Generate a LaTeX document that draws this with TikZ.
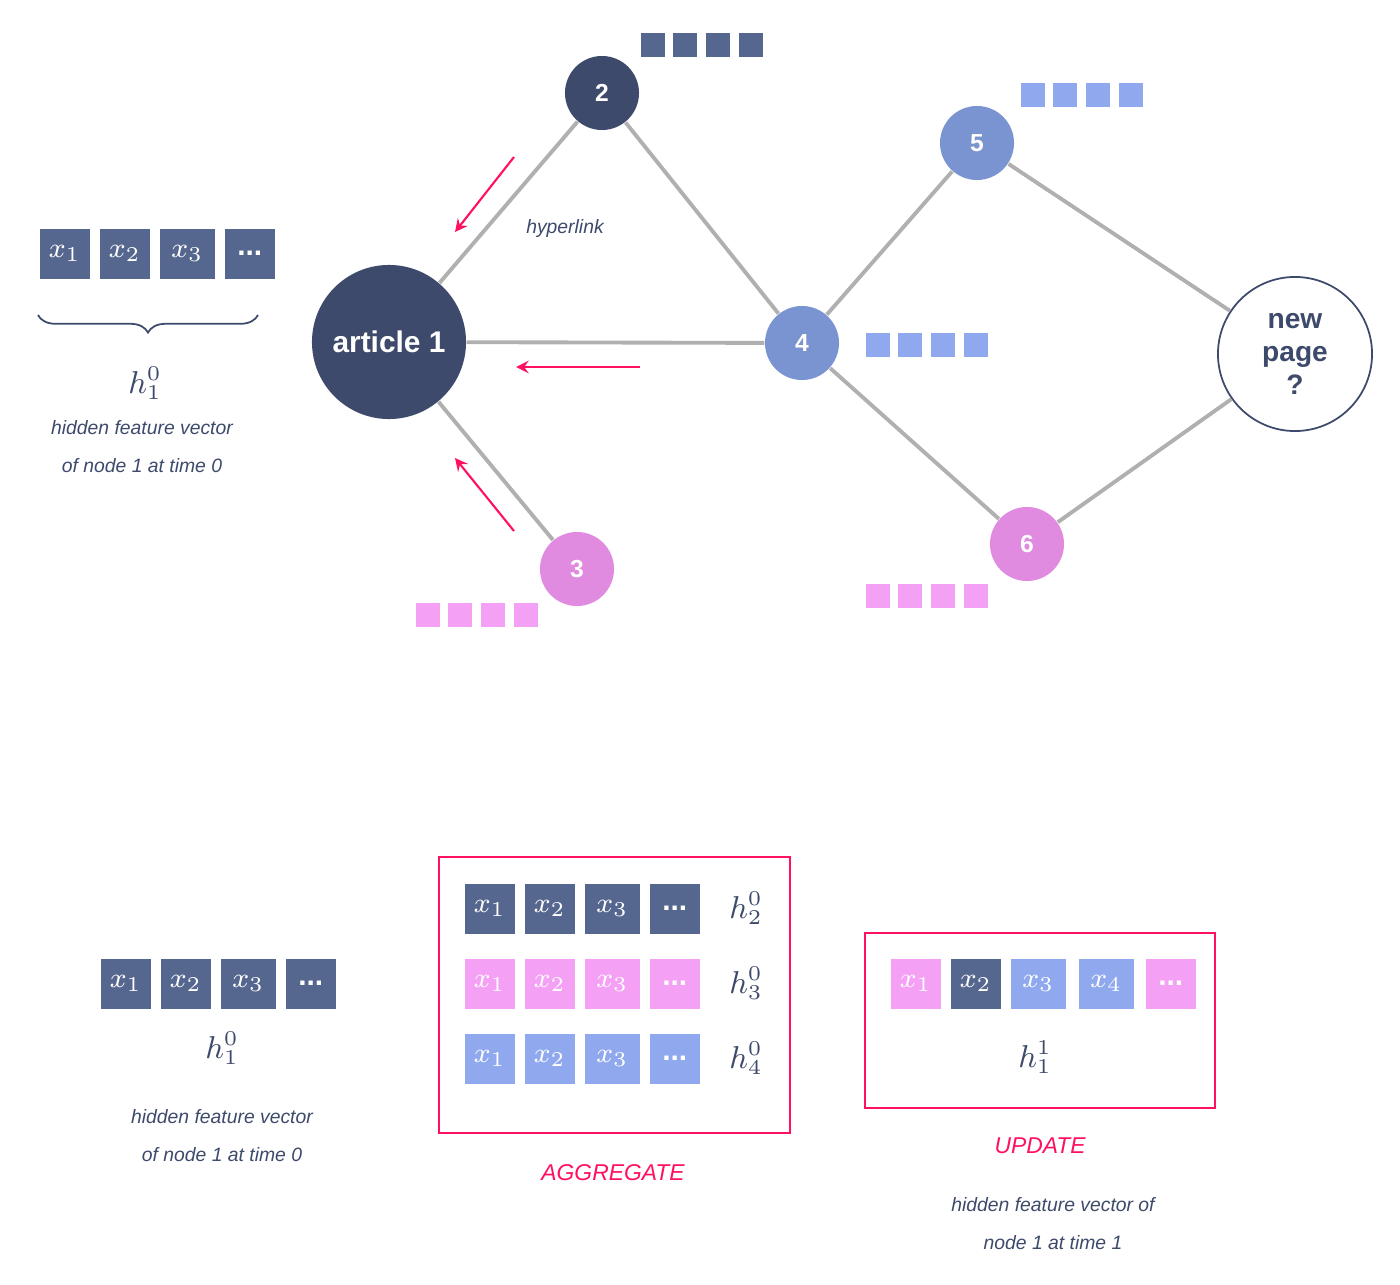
\documentclass[tikz,border=0pt]{standalone}
\usepackage{amsmath,amssymb}
\usepackage{fontspec}
\setmainfont{Liberation Sans}
\usetikzlibrary{decorations.pathreplacing}
\definecolor{navy}{HTML}{3D4A6B}
\definecolor{darkbox}{HTML}{56678F}
\definecolor{bluenode}{HTML}{7A93D1}
\definecolor{lightbox}{HTML}{8FA8EE}
\definecolor{pinknode}{HTML}{E08BE0}
\definecolor{pinkbox}{HTML}{F4A0F4}
\definecolor{hot}{HTML}{FF1060}
\definecolor{edgegray}{HTML}{B0B0B0}
\tikzset{
  vertex/.style={circle, minimum size=0.74cm, inner sep=0, text=white, font=\fontsize{7}{8}\selectfont\bfseries},
  link/.style={draw=edgegray, line width=1.1pt},
  flow/.style={draw=hot, line width=0.6pt, -stealth},
  cell/.style={minimum width=0.24cm, minimum height=0.24cm, inner sep=0, anchor=north west},
  feat/.style={minimum width=0.5cm, minimum height=0.5cm, inner sep=0, anchor=north west, text=white, font=\fontsize{8.5}{9}\selectfont},
  note/.style={text=navy, font=\fontsize{5.5}{6}\selectfont\itshape},
  tag/.style={text=hot, font=\fontsize{6.5}{7}\selectfont\itshape},
  hlab/.style={text=navy, font=\fontsize{9}{10}\selectfont}
}
\begin{document}
\begin{tikzpicture}[x=0.01cm, y=-0.01cm]
\useasboundingbox (0,0) rectangle (1400,1285);

% graph nodes
\node[vertex, fill=navy, minimum size=1.54cm, font=\fontsize{8.5}{9}\selectfont\bfseries] (a1) at (389,342) {article 1};
\node[vertex, fill=navy] (n2) at (602,93) {2};
\node[vertex, fill=pinknode] (n3) at (577,569) {3};
\node[vertex, fill=bluenode] (n4) at (802,343) {4};
\node[vertex, fill=bluenode] (n5) at (977,143) {5};
\node[vertex, fill=pinknode] (n6) at (1027,544) {6};
\node[vertex, draw=navy, line width=0.5pt, fill=white, minimum size=1.54cm, text=navy, align=center,
  font=\fontsize{8}{9.5}\selectfont\bfseries] (np) at (1295,354) {new\\page\\?};

% hyperlinks
\draw[link] (a1) -- (n2);
\draw[link] (a1) -- (n3);
\draw[link] (a1) -- (n4);
\draw[link] (n2) -- (n4);
\draw[link] (n4) -- (n5);
\draw[link] (n4) -- (n6);
\draw[link] (n5) -- (np);
\draw[link] (n6) -- (np);
\node[note] (hl) at (565,228) {hyperlink};

% messages towards article 1
\coordinate (m2s) at (514,157); \coordinate (m2e) at (455,232);
\coordinate (m4s) at (640,367); \coordinate (m4e) at (516,367);
\coordinate (m3s) at (514,531); \coordinate (m3e) at (455,458);
\draw[flow] (m2s) -- (m2e);
\draw[flow] (m4s) -- (m4e);
\draw[flow] (m3s) -- (m3e);

% small feature vectors
\foreach \i in {0,...,3} {
  \node[cell, fill=darkbox] (c2\i) at (640+32.7*\i,32) {};
  \node[cell, fill=lightbox] (c5\i) at (1020+32.7*\i,82) {};
  \node[cell, fill=lightbox] (c4\i) at (865+32.7*\i,332) {};
  \node[cell, fill=pinkbox] (c3\i) at (415+32.7*\i,602) {};
  \node[cell, fill=pinkbox] (c6\i) at (865+32.7*\i,583) {};
}

% top left vector
\node[feat, fill=darkbox] (t1) at (39,228) {$x_1$};
\node[feat, fill=darkbox] (t2) at (99,228) {$x_2$};
\node[feat, fill=darkbox, minimum width=0.55cm] (t3) at (159,228) {$x_3$};
\node[feat, fill=darkbox] (t4) at (224,228) {\bfseries ...};
\coordinate (bl) at (38,315); \coordinate (br) at (258,315);
\draw[navy, line width=0.5pt, decorate, decoration={brace, amplitude=5pt, mirror}] (bl) -- (br);
\node[hlab] (th) at (145,383) {$h_1^0$};
\node[note] (tn1) at (142,428) {hidden feature vector};
\node[note] (tn2) at (142,466) {of node 1 at time 0};

% bottom left vector
\node[feat, fill=darkbox] (b1) at (100,958) {$x_1$};
\node[feat, fill=darkbox] (b2) at (160,958) {$x_2$};
\node[feat, fill=darkbox, minimum width=0.55cm] (b3) at (220,958) {$x_3$};
\node[feat, fill=darkbox] (b4) at (285,958) {\bfseries ...};
\node[hlab] (bh) at (222,1048) {$h_1^0$};
\node[note] (bn1) at (222,1117) {hidden feature vector};
\node[note] (bn2) at (222,1155) {of node 1 at time 0};

% aggregate
\draw[hot, line width=0.6pt] (439,857) rectangle (790,1133);
\foreach \r/\c/\y/\k in {0/darkbox/883/2, 1/pinkbox/958/3, 2/lightbox/1033/4} {
  \node[feat, fill=\c] (g\r a) at (464,\y) {$x_1$};
  \node[feat, fill=\c] (g\r b) at (524,\y) {$x_2$};
  \node[feat, fill=\c, minimum width=0.55cm] (g\r c) at (584,\y) {$x_3$};
  \node[feat, fill=\c] (g\r d) at (649,\y) {\bfseries ...};
  \node[hlab] (g\r h) at (746,\y+25) {$h_\k^0$};
}
\node[tag] (agg) at (613,1173) {AGGREGATE};

% update
\draw[hot, line width=0.6pt] (865,933) rectangle (1215,1108);
\node[feat, fill=pinkbox] (u1) at (890,958) {$x_1$};
\node[feat, fill=darkbox] (u2) at (950,958) {$x_2$};
\node[feat, fill=lightbox, minimum width=0.55cm] (u3) at (1010,958) {$x_3$};
\node[feat, fill=lightbox, minimum width=0.55cm] (u4) at (1078,958) {$x_4$};
\node[feat, fill=pinkbox] (u5) at (1145,958) {\bfseries ...};
\node[hlab] (uh) at (1035,1057) {$h_1^1$};
\node[tag] (upd) at (1040,1146) {UPDATE};
\node[note] (un1) at (1053,1205) {hidden feature vector of};
\node[note] (un2) at (1053,1243) {node 1 at time 1};
\end{tikzpicture}
\end{document}
